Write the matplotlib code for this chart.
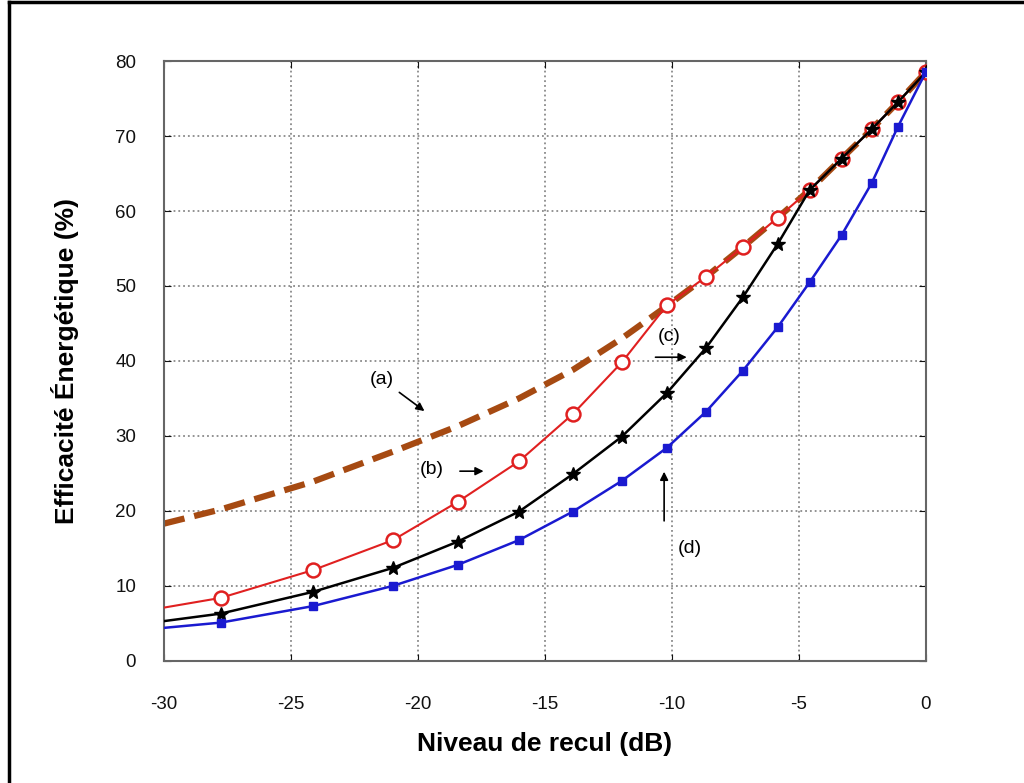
import matplotlib
matplotlib.use("Agg")
import matplotlib.pyplot as plt
from matplotlib.lines import Line2D

plt.rcParams['font.family'] = ['Liberation Sans', 'DejaVu Sans']
plt.rcParams['axes.unicode_minus'] = False

# back-off levels where the markers sit (dB)
x_pts = [-30, -27.76, -24.13, -20.98, -18.43, -16.02, -13.9, -11.97, -10.2,
         -8.66, -7.2, -5.83, -4.57, -3.31, -2.13, -1.1, 0]

# (a) dashed curve
eff_a = [18.3, 20.2, 23.9, 27.9, 31.3, 35.0, 38.8, 43.0, 47.3,
         51.2, 55.2, 59.1, 62.8, 67.0, 70.9, 74.5, 78.5]
# (b) red, open circles
eff_b = [7.1, 8.4, 12.1, 16.1, 21.2, 26.6, 32.9, 39.8, 47.4,
         51.2, 55.2, 59.1, 62.8, 67.0, 70.9, 74.5, 78.5]
# (c) black, stars
eff_c = [5.3, 6.3, 9.2, 12.4, 15.9, 19.9, 24.9, 29.9, 35.7,
         41.7, 48.5, 55.6, 62.8, 67.0, 70.9, 74.5, 78.5]
# (d) blue, squares
eff_d = [4.4, 5.1, 7.3, 10.0, 12.8, 16.1, 19.9, 24.0, 28.4,
         33.2, 38.7, 44.5, 50.5, 56.8, 63.7, 71.2, 78.5]

xticks = [-30, -25, -20, -15, -10, -5, 0]
yticks = [0, 10, 20, 30, 40, 50, 60, 70, 80]

fig = plt.figure(figsize=(10.24, 7.83), dpi=100)
ax = fig.add_axes([0.160, 0.156, 0.744, 0.766])

ax.plot(x_pts, eff_a, color='#a64a12', lw=4.5, ls=(0, (3.4, 1.6)), zorder=2)
ax.plot(x_pts, eff_b, color='#e02020', lw=1.5, marker='o', ms=10,
        markevery=range(1, len(x_pts)), mfc='white', mec='#e02020', mew=1.8, zorder=3)
ax.plot(x_pts, eff_c, color='black', lw=1.8, marker='*', ms=10,
        markevery=range(1, len(x_pts)), zorder=4)
ax.plot(x_pts, eff_d, color='#1a1ad0', lw=1.8, marker='s', ms=6,
        markevery=range(1, len(x_pts)), zorder=5)

ax.set_xlim(-30, 0)
ax.set_ylim(0, 80)
ax.set_xticks(xticks)
ax.set_yticks(yticks)
ax.tick_params(direction='in', top=True, right=True, labelsize=13.5, length=5,
               colors='#111111')
ax.tick_params(axis='y', pad=20)
ax.tick_params(axis='x', pad=25)
ax.grid(True, ls=':', color='#8a8a8a', lw=1.3)
for s in ax.spines.values():
    s.set_color('#666666')
    s.set_linewidth(1.5)

ax.set_xlabel('Niveau de recul (dB)', fontsize=19, fontweight='bold', labelpad=14)
ax.set_ylabel('Efficacité Énergétique (%)', fontsize=19, fontweight='bold', labelpad=26)

arrow = dict(arrowstyle='-|>', color='black', lw=1.2, mutation_scale=12)
ax.annotate('(a)', xy=(-19.65, 33.1), xytext=(-21.4, 37.5), fontsize=14,
            ha='center', va='center', arrowprops=arrow)
ax.text(-19.45, 25.5, '(b)', fontsize=14, ha='center', va='center')
ax.annotate('', xy=(-17.3, 25.3), xytext=(-18.45, 25.3), arrowprops=arrow)
ax.text(-10.1, 43.3, '(c)', fontsize=14, ha='center', va='center')
ax.annotate('', xy=(-9.3, 40.5), xytext=(-10.75, 40.5), arrowprops=arrow)
ax.text(-9.3, 15.0, '(d)', fontsize=14, ha='center', va='center')
ax.annotate('', xy=(-10.3, 25.6), xytext=(-10.3, 18.3), arrowprops=arrow)

# outer frame (top and left edges)
fig.add_artist(Line2D([0.009, 0.009], [0.0, 0.997], color='black', lw=2.5))
fig.add_artist(Line2D([0.009, 1.0], [0.997, 0.997], color='black', lw=2.5))

fig.savefig('out.png', dpi=100, facecolor='white')
